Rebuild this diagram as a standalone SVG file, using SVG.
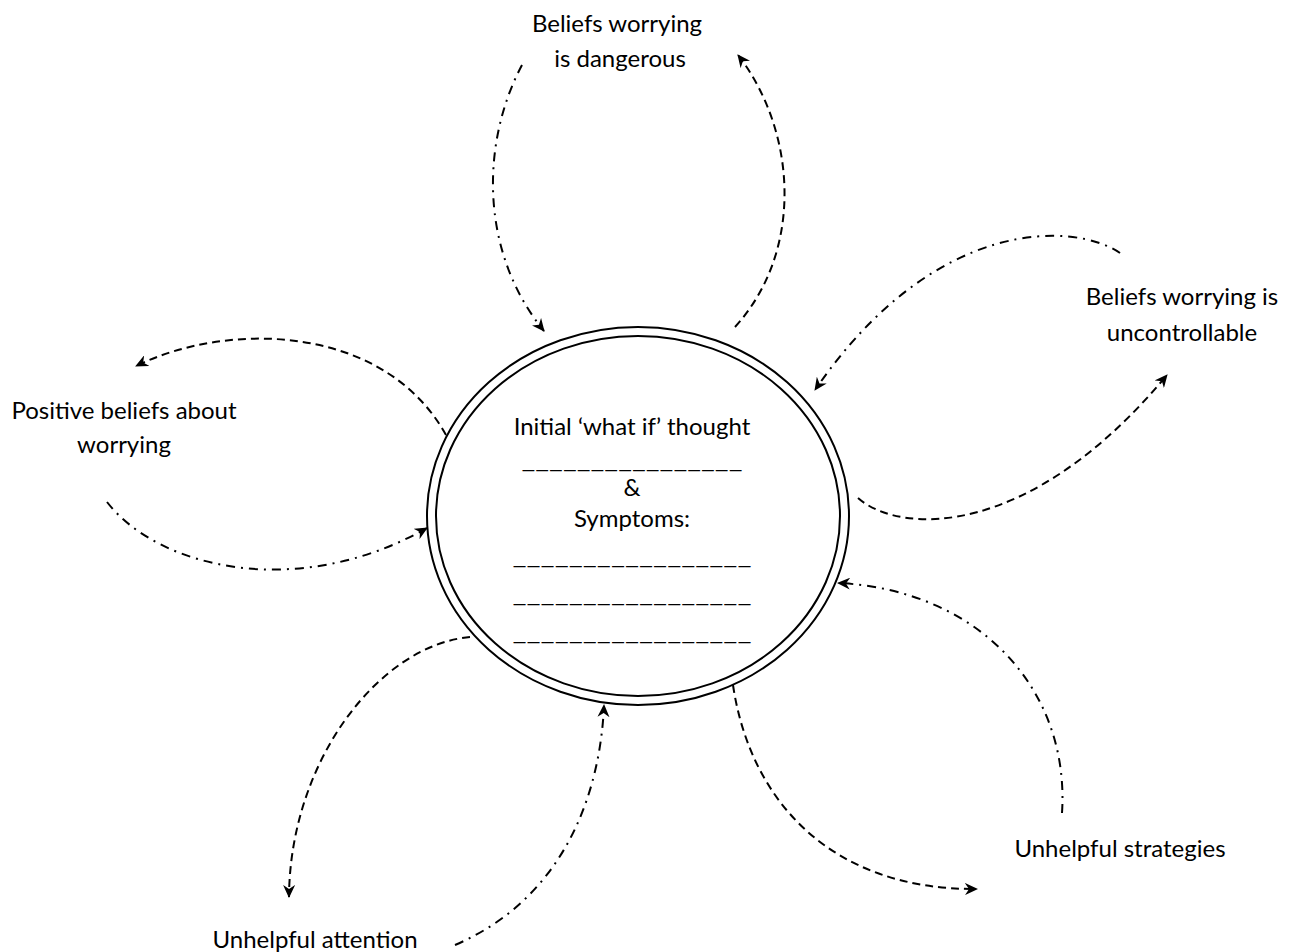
<svg xmlns="http://www.w3.org/2000/svg" width="1293" height="952" viewBox="0 0 1293 952">
<style>
text{font-family:Lato,"Open Sans","Liberation Sans",sans-serif;font-size:24px;fill:#000;text-anchor:middle}
.dash{fill:none;stroke:#000;stroke-width:2;stroke-dasharray:8 5;marker-end:url(#ah)}
.dd{fill:none;stroke:#000;stroke-width:2;stroke-dasharray:9 6 2 6;marker-end:url(#ah)}
.ring{fill:none;stroke:#000;stroke-width:2}
</style>
<defs>
<marker id="ah" markerWidth="14" markerHeight="12" refX="12" refY="6" orient="auto" markerUnits="userSpaceOnUse">
<path d="M0,0 L13,6 L0,12 L4,6 z" fill="#000"/>
</marker>
</defs>
<rect width="1293" height="952" fill="#fff"/>
<g id="center">
<ellipse class="ring" cx="638" cy="516" rx="211" ry="189"/>
<ellipse class="ring" cx="638" cy="516" rx="202" ry="180"/>
<text x="632" y="435">Initial ‘what if’ thought</text>
<text x="632" y="468" textLength="221" lengthAdjust="spacingAndGlyphs">________________</text>
<text x="632" y="496">&amp;</text>
<text x="632" y="527">Symptoms:</text>
<text x="632" y="564" textLength="239" lengthAdjust="spacingAndGlyphs">_________________</text>
<text x="632" y="602" textLength="239" lengthAdjust="spacingAndGlyphs">_________________</text>
<text x="632" y="640" textLength="239" lengthAdjust="spacingAndGlyphs">_________________</text>
</g>
<g id="dangerous">
<text x="617" y="32">Beliefs worrying</text>
<text x="620" y="67">is dangerous</text>
</g>
<g id="uncontrollable">
<text x="1182" y="305">Beliefs worrying is</text>
<text x="1182" y="341">uncontrollable</text>
</g>
<g id="positive">
<text x="124" y="419">Positive beliefs about</text>
<text x="124" y="453">worrying</text>
</g>
<g id="strategies">
<text x="1120" y="857">Unhelpful strategies</text>
</g>
<g id="attention">
<text x="315" y="948">Unhelpful attention</text>
</g>
<g id="connectors">
<path class="dd" d="M522,65 C482,140 478,250 544,331"/>
<path class="dash" d="M735,327 C805,250 796,130 738,55"/>
<path class="dd" d="M1120,253 C1075,222 935,215 815,390"/>
<path class="dash" d="M858,498 C900,535 1030,540 1167,375"/>
<path class="dash" d="M446,435 C385,325 230,320 136,366"/>
<path class="dd" d="M107,502 C160,570 300,600 427,528"/>
<path class="dash" d="M470,637 C380,645 290,760 289,897"/>
<path class="dd" d="M455,945 C560,900 600,800 604,705"/>
<path class="dash" d="M733,685 C750,800 830,890 977,889"/>
<path class="dd" d="M1062,813 C1070,690 980,590 838,583"/>
</g>
</svg>
